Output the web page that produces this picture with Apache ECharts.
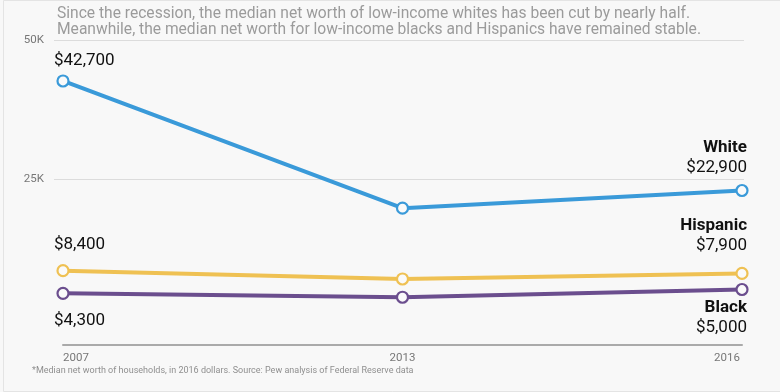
<!DOCTYPE html>
<html>
<head>
<meta charset="utf-8">
<script src="https://cdn.jsdelivr.net/npm/echarts@6/dist/echarts.min.js"></script>
<style>
html,body{margin:0;padding:0;background:#f8f8f8;}
#chart{width:780px;height:392px;}
</style>
</head>
<body>
<div id="chart"></div>
<script>
// ---- data ----
const years = ['2007', '2013', '2016'];
const seriesNames = ['White', 'Hispanic', 'Black'];
const whiteValues = [42700, 19700, 22900];
const hispanicValues = [8400, 6900, 7900];
const blackValues = [4300, 3600, 5000];
const yTickLabels = {25000: '25K', 50000: '50K'};
const subtitleLines = [
  'Since the recession, the median net worth of low-income whites has been cut by nearly half.',
  'Meanwhile, the median net worth for low-income blacks and Hispanics have remained stable.'
];
const footnote = '*Median net worth of households, in 2016 dollars. Source: Pew analysis of Federal Reserve data';

// ---- styling ----
const FONT = 'Roboto, "Noto Sans", sans-serif';
const colors = {White: '#3a9ad9', Hispanic: '#efc153', Black: '#6b4e8e'};
const Y_MIN = -5000, Y_MAX = 50000, Y_STEP = 5000;

const fmt = v => '$' + v.toLocaleString('en-US');

// split line colours: only 25K and 50K visible
const splitColors = [];
for (let v = Y_MIN; v <= Y_MAX; v += Y_STEP) {
  splitColors.push(yTickLabels[v] ? '#dcdcdc' : 'rgba(0,0,0,0)');
}

// label placement per series: [first point, last point]
const labelCfg = {
  White: [
    {position: 'top', distance: 4, align: 'left', offset: [-9, 0]},
    {position: 'top', distance: 6, align: 'right', offset: [5, 0]}
  ],
  Hispanic: [
    {position: 'top', distance: 9, align: 'left', offset: [-9, 0]},
    {position: 'top', distance: 11, align: 'right', offset: [5, 0]}
  ],
  Black: [
    {position: 'bottom', distance: 11, align: 'left', offset: [-9, 0]},
    {position: 'bottom', distance: 2, align: 'right', offset: [5, 0]}
  ]
};

function buildSeries(name, values) {
  const last = values.length - 1;
  return {
    name: name,
    type: 'line',
    xAxisIndex: 1,
    yAxisIndex: 1,
    symbol: 'circle',
    symbolSize: 11,
    lineStyle: {color: colors[name], width: 4},
    itemStyle: {color: '#fafafa', borderColor: colors[name], borderWidth: 2.2},
    emphasis: {disabled: true},
    z: 3,
    data: values.map((v, i) => {
      const item = {value: v};
      if (i === 0) {
        const c = labelCfg[name][0];
        item.label = Object.assign({
          show: true,
          formatter: fmt(v),
          fontFamily: FONT, fontSize: 17, color: '#111', lineHeight: 20
        }, c);
      } else if (i === last) {
        const c = labelCfg[name][1];
        item.label = Object.assign({
          show: true,
          formatter: '{n|' + name + '}\n{v|' + fmt(v) + '}',
          rich: {
            n: {fontFamily: FONT, fontSize: 17, fontWeight: 'bold', color: '#111', lineHeight: 20, align: 'right'},
            v: {fontFamily: FONT, fontSize: 17, color: '#111', lineHeight: 20, align: 'right'}
          }
        }, c);
      }
      return item;
    })
  };
}

const chart = echarts.init(document.getElementById('chart'), null, {renderer: 'canvas'});

const option = {
  backgroundColor: '#f8f8f8',
  animation: false,
  title: {
    text: subtitleLines.join('\n'),
    left: 52,
    top: 1,
    textStyle: {fontFamily: FONT, fontSize: 15.6, fontWeight: 'normal', color: '#9b9b9b', lineHeight: 16}
  },
  graphic: [
    {
      type: 'text',
      left: 32,
      top: 366,
      style: {text: footnote, fontFamily: FONT, fontSize: 9, fill: '#8f8f8f'}
    },
    {
      type: 'rect',
      left: 1, top: -2,
      shape: {width: 778, height: 391},
      style: {fill: 'none', stroke: '#e4e4e4', lineWidth: 1},
      silent: true, z: -1
    }
  ],
  grid: [
    {left: 54, right: 36, top: 40.6, bottom: 47.2},
    {left: 63, right: 38, top: 40.6, bottom: 47.2}
  ],
  xAxis: [
    {gridIndex: 0, type: 'value', min: 0, max: 1, show: false},
    {
      gridIndex: 1,
      type: 'category',
      boundaryGap: false,
      data: years,
      axisLine: {show: true, onZero: false, lineStyle: {color: '#aaaaaa', width: 2}},
      axisTick: {show: false},
      splitLine: {show: false},
      axisLabel: {
        margin: 7,
        formatter: (val, idx) => idx === 0 ? '{l|' + val + '}' : (idx === years.length - 1 ? '{r|' + val + '}' : '{c|' + val + '}'),
        rich: {
          l: {fontFamily: FONT, fontSize: 11.5, color: '#777', padding: [0, 0, 0, 26]},
          c: {fontFamily: FONT, fontSize: 11.5, color: '#777'},
          r: {fontFamily: FONT, fontSize: 11.5, color: '#777', padding: [0, 30, 0, 0]}
        }
      }
    }
  ],
  yAxis: [
    {
      gridIndex: 0,
      type: 'value',
      min: Y_MIN, max: Y_MAX, interval: Y_STEP,
      axisLine: {show: false},
      axisTick: {show: false},
      axisLabel: {
        margin: 10,
        fontFamily: FONT, fontSize: 11.5, color: '#777',
        formatter: v => yTickLabels[v] || ''
      },
      splitLine: {show: true, lineStyle: {color: splitColors, width: 1}}
    },
    {
      gridIndex: 1,
      type: 'value',
      min: Y_MIN, max: Y_MAX, interval: Y_STEP,
      show: false,
      splitLine: {show: false}
    }
  ],
  series: [
    buildSeries(seriesNames[0], whiteValues),
    buildSeries(seriesNames[1], hispanicValues),
    buildSeries(seriesNames[2], blackValues)
  ]
};

chart.setOption(option);
</script>
</body>
</html>
